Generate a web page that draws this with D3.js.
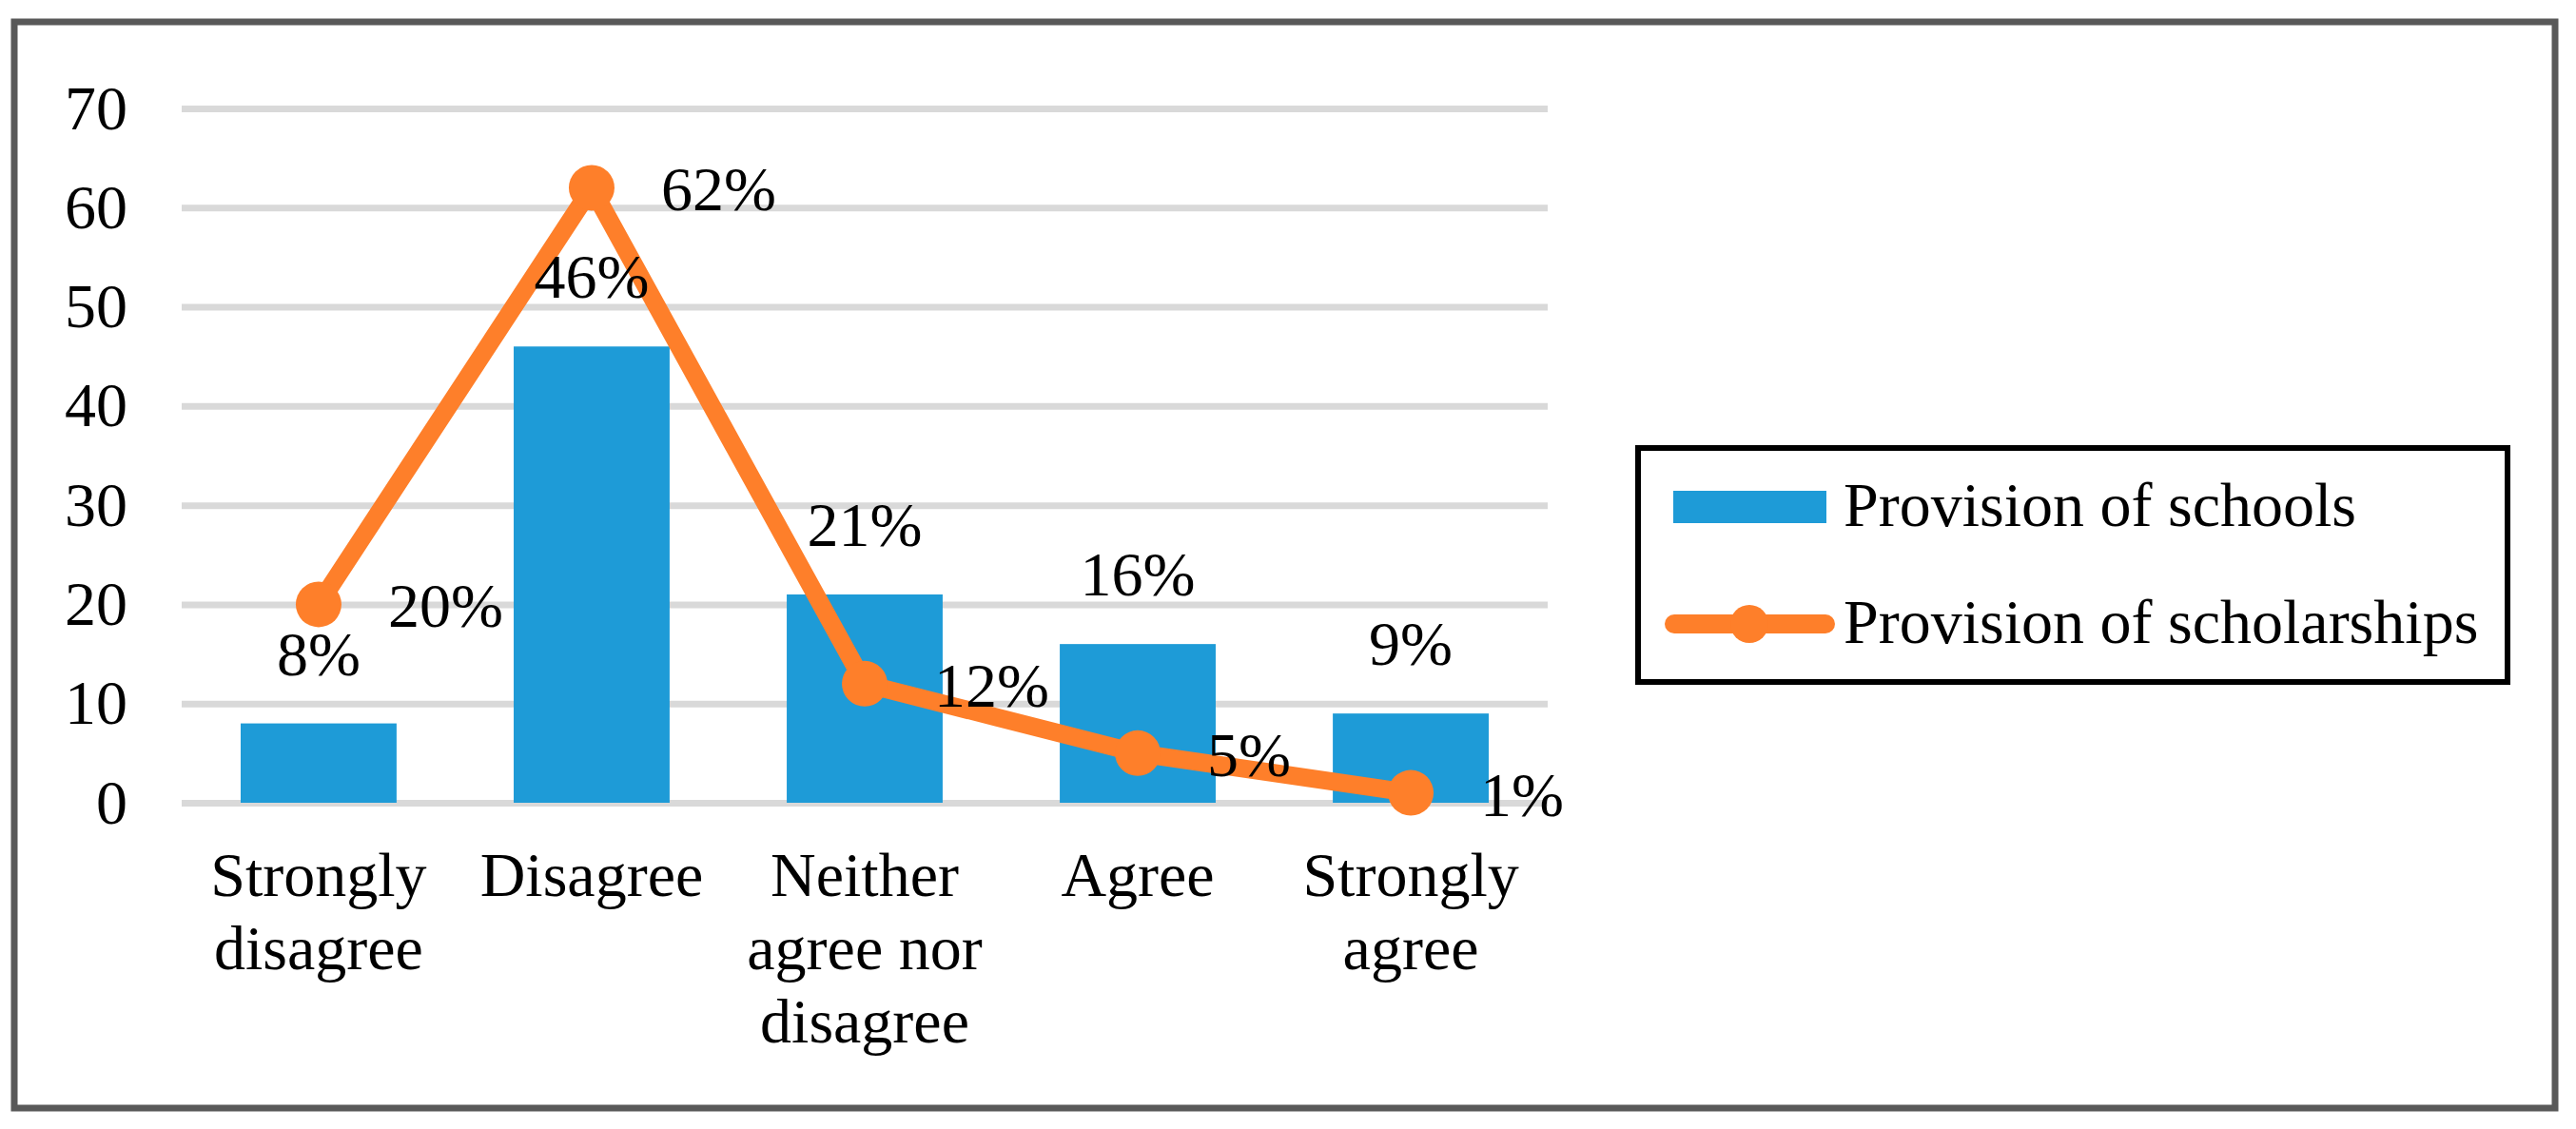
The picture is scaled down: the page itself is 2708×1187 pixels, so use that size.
<!DOCTYPE html>
<html>
<head>
<meta charset="utf-8">
<script src="https://cdn.jsdelivr.net/npm/d3@7"></script>
<style>
  body { margin: 0; background: #fff; }
  text { font-family: "Liberation Serif", "Times New Roman", serif; }
</style>
</head>
<body>
<div id="chart"></div>
<script>
// data
var categories = ["Strongly disagree", "Disagree", "Neither agree nor disagree", "Agree", "Strongly agree"];
var categoryLines = [["Strongly", "disagree"], ["Disagree"], ["Neither", "agree nor", "disagree"], ["Agree"], ["Strongly", "agree"]];
var schools = [8, 46, 21, 16, 9];
var scholarships = [20, 62, 12, 5, 1];
var yTicks = [0, 10, 20, 30, 40, 50, 60, 70];
var seriesNames = ["Provision of schools", "Provision of scholarships"];

var width = 2708, height = 1187;
var blue = "#1e9bd7", orange = "#fe7f2a";
var fontSize = 66;

var svg = d3.select("#chart")
  .append("svg")
    .attr("width", width)
    .attr("height", height);

// outer frame
svg.append("rect")
  .attr("x", 15).attr("y", 23)
  .attr("width", 2686 - 15).attr("height", 1165 - 23)
  .attr("fill", "#fff")
  .attr("stroke", "#595959")
  .attr("stroke-width", 7);

var x = d3.scaleBand()
  .domain(categories)
  .range([191, 1627])
  .paddingInner(0.429)
  .paddingOuter(0.216);

var y = d3.scaleLinear()
  .domain([0, 70])
  .range([844, 114]);

var cx = function(i) { return x(categories[i]) + x.bandwidth() / 2; };

// gridlines + y labels
var yAxis = svg.append("g")
  .attr("transform", "translate(191,0)")
  .call(d3.axisLeft(y)
    .tickValues(yTicks)
    .tickSize(-(1627 - 191))
    .tickPadding(57));
yAxis.select(".domain").remove();
yAxis.selectAll("line")
  .attr("stroke", "#d9d9d9")
  .attr("stroke-width", 7);
yAxis.selectAll("text")
  .attr("fill", "#000")
  .style("font-family", "'Liberation Serif', serif")
  .style("font-size", fontSize + "px");

// category labels
var cat = svg.append("g");
categoryLines.forEach(function(lines, i) {
  var t = cat.append("text")
    .attr("text-anchor", "middle")
    .attr("font-size", fontSize)
    .attr("fill", "#000");
  lines.forEach(function(l, j) {
    t.append("tspan")
      .attr("x", cx(i))
      .attr("y", 942 + j * 77)
      .text(l);
  });
});

// bars
svg.selectAll(".bar")
  .data(schools)
  .enter().append("rect")
    .attr("class", "bar")
    .attr("x", function(d, i) { return x(categories[i]); })
    .attr("y", function(d) { return y(d); })
    .attr("width", x.bandwidth())
    .attr("height", function(d) { return y(0) - y(d); })
    .attr("fill", blue);

// line
svg.append("path")
  .datum(scholarships)
  .attr("fill", "none")
  .attr("stroke", orange)
  .attr("stroke-width", 19)
  .attr("stroke-linejoin", "round")
  .attr("d", d3.line()
    .x(function(d, i) { return cx(i); })
    .y(function(d) { return y(d); })
  );

svg.selectAll(".dot")
  .data(scholarships)
  .enter().append("circle")
    .attr("class", "dot")
    .attr("cx", function(d, i) { return cx(i); })
    .attr("cy", function(d) { return y(d); })
    .attr("r", 24)
    .attr("fill", orange);

// data labels
svg.selectAll(".barlabel")
  .data(schools)
  .enter().append("text")
    .attr("class", "barlabel")
    .attr("x", function(d, i) { return cx(i); })
    .attr("y", function(d) { return y(d) - 51; })
    .attr("text-anchor", "middle")
    .attr("font-size", fontSize)
    .text(function(d) { return d + "%"; });

svg.selectAll(".linelabel")
  .data(scholarships)
  .enter().append("text")
    .attr("class", "linelabel")
    .attr("x", function(d, i) { return cx(i) + 73; })
    .attr("y", function(d) { return y(d) + 24; })
    .attr("font-size", fontSize)
    .text(function(d) { return d + "%"; });

// legend
var legend = svg.append("g");
legend.append("rect")
  .attr("x", 1722).attr("y", 471)
  .attr("width", 2636 - 1722).attr("height", 717 - 471)
  .attr("fill", "#fff")
  .attr("stroke", "#000")
  .attr("stroke-width", 6);

legend.append("rect")
  .attr("x", 1759).attr("y", 516)
  .attr("width", 161).attr("height", 34)
  .attr("fill", blue);
legend.append("text")
  .attr("x", 1938).attr("y", 553)
  .attr("font-size", fontSize)
  .text(seriesNames[0]);

legend.append("line")
  .attr("x1", 1760).attr("x2", 1919)
  .attr("y1", 656).attr("y2", 656)
  .attr("stroke", orange)
  .attr("stroke-width", 20)
  .attr("stroke-linecap", "round");
legend.append("circle")
  .attr("cx", 1839).attr("cy", 656)
  .attr("r", 20)
  .attr("fill", orange);
legend.append("text")
  .attr("x", 1938).attr("y", 676)
  .attr("font-size", fontSize)
  .text(seriesNames[1]);
</script>
</body>
</html>
